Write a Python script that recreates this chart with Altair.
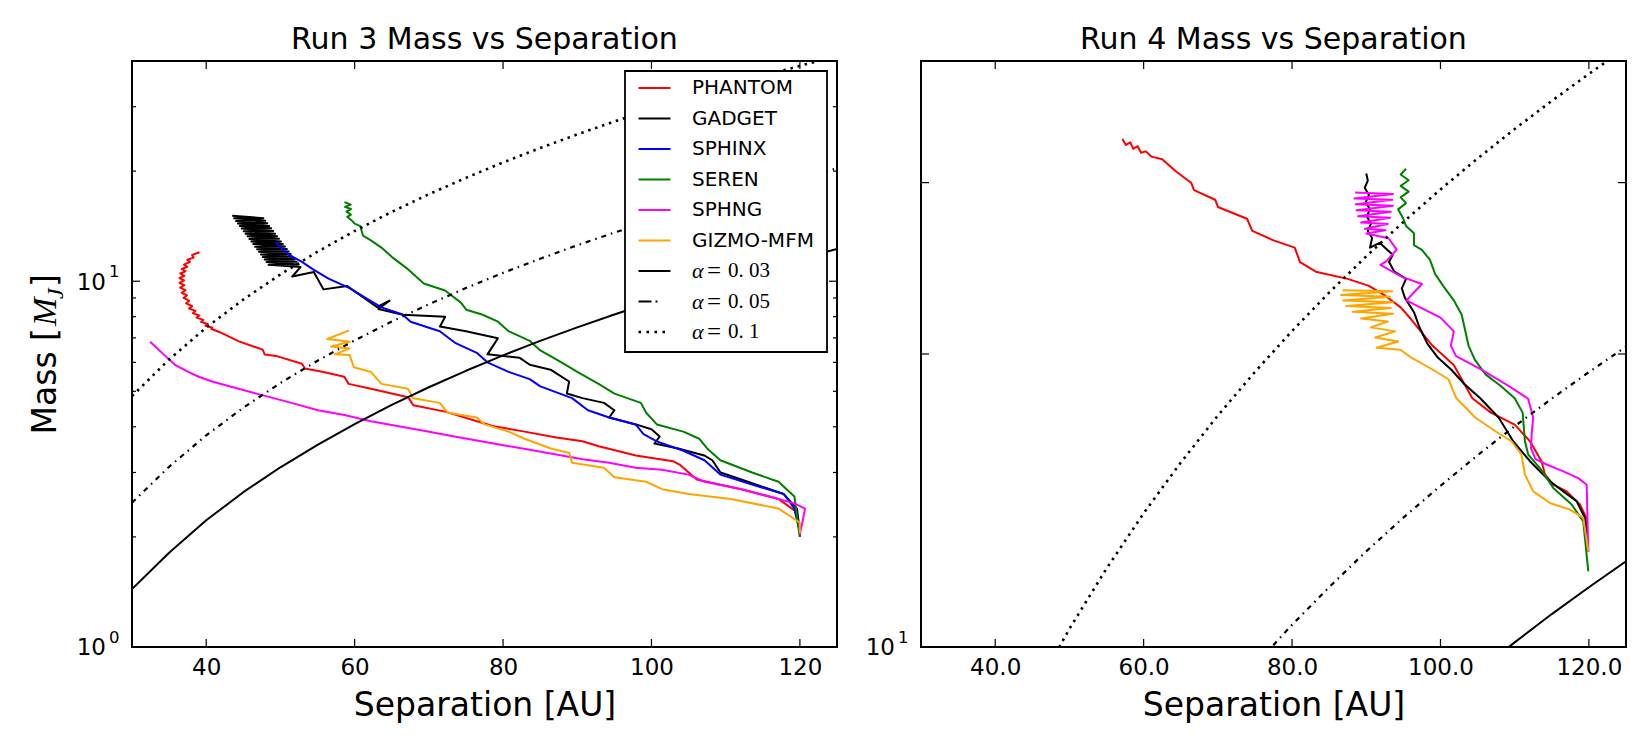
import altair as alt
import pandas as pd

# ---------------------------------------------------------------- axes
X_DOMAIN = [30, 125]
X_TICKS = [40, 60, 80, 100, 120]
RUN3_Y_DOMAIN = [1, 40]
RUN3_Y_MAJOR = [1, 10]
RUN3_Y_EXP = ["0", "1"]
RUN3_Y_MINOR = [2, 3, 4, 5, 6, 7, 8, 9, 20, 30]
RUN4_Y_DOMAIN = [10, 40]
RUN4_Y_MAJOR = [10]
RUN4_Y_EXP = ["1"]
RUN4_Y_MINOR = [20, 30]

CODES = ["PHANTOM", "GADGET", "SPHINX", "SEREN", "SPHNG", "GIZMO-MFM"]
CODE_COLORS = ["#ff0000", "#000000", "#0000ff", "#008000", "#ff00ff", "#ffa500"]

# ------------------------------------------- fragmentation-mass curves
ALPHA_SEP = [30, 35, 40, 45, 50, 55, 60, 65, 70, 75, 80, 85, 90, 95, 100,
             105, 110, 115, 120, 125]
ALPHA_003 = [1.44, 1.81, 2.22, 2.65, 3.10, 3.57, 4.07, 4.59, 5.13, 5.69, 6.27,
             6.87, 7.48, 8.11, 8.76, 9.43, 10.11, 10.81, 11.52, 12.25]
ALPHA_005 = [2.48, 3.11, 3.79, 4.51, 5.27, 6.06, 6.89, 7.76, 8.65, 9.58, 10.54,
             11.52, 12.54, 13.58, 14.64, 15.74, 16.86, 18.00, 19.16, 20.35]
ALPHA_01 = [4.85, 6.11, 7.47, 8.91, 10.44, 12.04, 13.72, 15.47, 17.29, 19.17,
            21.12, 23.13, 25.20, 27.33, 29.52, 31.76, 34.05, 36.40, 38.80, 41.25]
ALPHA_LABELS = ["0. 03", "0. 05", "0. 1"]

# --------------------------------------------- Run 3 (separation, mass)
RUN3_PHANTOM = [
    (39.1, 12.0), (38.1, 11.8), (38.3, 11.6), (37.45, 11.45), (37.8, 11.3),
    (37.0, 11.1), (37.45, 10.95), (36.7, 10.8), (37.2, 10.65), (36.5, 10.5),
    (37.05, 10.35), (36.4, 10.2), (37.0, 10.05), (36.4, 9.9), (37.05, 9.75),
    (36.5, 9.6), (37.2, 9.45), (36.7, 9.3), (37.4, 9.15), (36.95, 9.0),
    (37.7, 8.85), (37.3, 8.7), (38.1, 8.55), (37.7, 8.42), (38.55, 8.3),
    (38.2, 8.18), (39.05, 8.06), (38.7, 7.95), (39.6, 7.84), (39.3, 7.74),
    (40.2, 7.64), (39.9, 7.55), (40.8, 7.47), (40.7, 7.4),
    (41.5, 7.3), (42.2, 7.2), (44.4, 6.85), (47.6, 6.5), (47.9, 6.3),
    (49.4, 6.25), (52.9, 5.95), (53.3, 5.77), (55.8, 5.65), (58.6, 5.48),
    (59.2, 5.24), (62.2, 5.08), (67.2, 4.82), (67.9, 4.58), (72.2, 4.40),
    (78.6, 4.02), (82.9, 3.88), (87.2, 3.74), (90.7, 3.65), (92.9, 3.54),
    (97.9, 3.34), (102.9, 3.22), (103.9, 3.14), (106.1, 2.87), (112.1, 2.70),
    (117.1, 2.54), (119.3, 2.36), (120.0, 2.12), (120.0, 2.0)]

RUN3_GADGET = [
    (43.50, 15.10), (47.70, 14.87), (43.76, 14.86), (47.96, 14.64),
    (44.02, 14.62), (48.23, 14.40), (44.27, 14.38), (48.49, 14.16),
    (44.53, 14.16), (48.75, 13.95), (44.79, 13.93), (49.02, 13.72),
    (45.05, 13.70), (49.28, 13.49), (45.31, 13.48), (49.54, 13.28),
    (45.56, 13.27), (49.81, 13.07), (45.82, 13.05), (50.07, 12.85),
    (46.08, 12.84), (50.33, 12.65), (46.34, 12.64), (50.60, 12.45),
    (46.59, 12.43), (50.86, 12.24), (46.85, 12.23), (51.12, 12.05),
    (47.11, 12.04), (51.38, 11.86), (47.37, 11.84), (51.65, 11.66),
    (47.63, 11.65), (51.91, 11.48), (47.88, 11.47), (52.17, 11.30),
    (48.14, 11.28), (52.44, 11.11), (48.40, 11.10), (52.70, 10.93),
    (51.6, 10.3), (54.5, 10.6), (55.8, 9.5), (59.0, 9.7),
    (63.0, 8.5), (64.7, 8.85), (63.2, 8.4), (66.5, 8.1), (72.2, 8.0),
    (71.5, 7.52), (75.0, 7.30), (79.3, 6.98), (77.9, 6.31), (82.2, 6.18),
    (83.6, 5.91), (86.4, 5.73), (88.9, 5.32), (88.6, 4.93), (90.7, 4.79),
    (93.6, 4.65), (95.0, 4.44), (94.3, 4.24), (97.9, 4.06), (100.0, 3.94),
    (101.1, 3.76), (100.4, 3.60), (103.6, 3.49), (107.1, 3.34), (108.2, 3.24),
    (109.3, 3.00), (112.1, 2.87), (117.8, 2.62), (119.6, 2.39), (120.0, 2.06)]

RUN3_SPHINX = [
    (49.35, 12.74), (51.13, 11.81), (52.91, 11.29), (54.34, 10.79),
    (56.48, 10.16), (59.33, 9.57), (61.47, 9.01), (63.61, 8.48), (66.47, 8.11),
    (67.54, 7.75), (71.47, 7.30), (73.61, 6.77), (76.46, 6.37), (77.89, 6.00),
    (80.74, 5.65), (83.59, 5.40), (85.02, 5.16), (89.30, 4.79), (91.44, 4.44),
    (94.30, 4.24), (97.86, 4.06), (98.93, 3.82), (100.72, 3.65), (104.29, 3.44),
    (107.14, 3.24), (109.28, 2.96), (113.56, 2.78), (117.84, 2.62),
    (119.26, 2.39), (119.98, 2.06)]

RUN3_SEREN = [
    (58.62, 16.45), (59.48, 16.2), (58.7, 15.97), (59.5, 15.75), (58.9, 15.49),
    (59.5, 15.2), (59.0, 15.0), (59.69, 14.6), (60.0, 14.37), (60.76, 14.15),
    (61.12, 13.33), (62.19, 12.93), (63.61, 12.36), (65.04, 11.64),
    (67.18, 10.79), (69.32, 9.86), (72.18, 9.43), (74.32, 8.74), (75.04, 8.36),
    (77.17, 8.11), (79.32, 7.75), (80.74, 7.30), (83.59, 6.87), (85.02, 6.47),
    (87.87, 6.00), (90.01, 5.65), (92.87, 5.24), (95.01, 4.93), (98.57, 4.65),
    (99.29, 4.37), (100.72, 4.06), (104.29, 3.88), (106.43, 3.71),
    (107.50, 3.49), (109.28, 3.24), (113.56, 3.00), (117.12, 2.83),
    (119.26, 2.58), (119.98, 2.00)]

RUN3_SPHNG = [
    (32.44, 6.83), (34.37, 6.28), (35.79, 5.91), (37.58, 5.65), (39.0, 5.48),
    (40.79, 5.32), (44.35, 5.08), (47.92, 4.86), (51.49, 4.65), (55.06, 4.44),
    (58.62, 4.31), (62.19, 4.14), (65.76, 4.02), (69.32, 3.90), (72.89, 3.78),
    (76.46, 3.67), (80.03, 3.56), (83.59, 3.46), (87.16, 3.36), (90.73, 3.26),
    (94.30, 3.19), (97.86, 3.09), (101.43, 3.05), (104.99, 2.96),
    (107.14, 2.83), (112.13, 2.70), (117.12, 2.54), (119.26, 2.47),
    (120.69, 2.39), (120.33, 2.19), (119.98, 2.03)]

RUN3_GIZMO = [
    (59.26, 7.34), (56.33, 6.95), (59.33, 6.83), (56.84, 6.63), (59.33, 6.55),
    (57.34, 6.31), (59.33, 6.28), (59.90, 5.82), (62.19, 5.65), (63.61, 5.24),
    (67.18, 5.08), (67.90, 4.79), (71.47, 4.65), (72.54, 4.37), (76.46, 4.24),
    (77.53, 4.06), (80.74, 3.88), (82.88, 3.71), (86.44, 3.49), (88.94, 3.39),
    (89.30, 3.19), (93.58, 3.09), (95.01, 2.91), (99.29, 2.83), (101.43, 2.70),
    (104.99, 2.62), (110.70, 2.54), (117.12, 2.39), (119.98, 2.19),
    (120.0, 2.05)]

# --------------------------------------------- Run 4 (separation, mass)
RUN4_PHANTOM = [
    (57.14, 33.26), (57.6, 32.8), (58.2, 33.0), (58.6, 32.5), (59.2, 32.7),
    (59.64, 32.2), (60.3, 32.3), (61.07, 31.9), (62.50, 31.71), (64.29, 30.83),
    (66.43, 29.97), (66.79, 29.47), (69.64, 28.81), (70.00, 28.32),
    (73.93, 27.54), (74.64, 26.76), (77.50, 26.17), (80.36, 25.72),
    (81.07, 24.86), (83.21, 24.30), (87.50, 23.89), (90.36, 23.50),
    (92.50, 22.97), (94.64, 22.33), (96.07, 21.70), (98.93, 20.39),
    (101.79, 19.49), (104.29, 18.01), (106.79, 17.41), (110.0, 16.92),
    (112.06, 16.27), (113.62, 15.52), (114.08, 15.04), (115.2, 14.68),
    (117.0, 14.45), (118.8, 14.01), (119.6, 13.6), (119.92, 12.54)]

RUN4_GADGET = [
    (90.00, 30.65), (90.21, 30.14), (89.79, 29.63), (90.36, 29.13),
    (89.93, 28.64), (90.50, 28.16), (90.07, 27.70), (90.64, 27.22),
    (90.21, 26.76), (90.79, 26.31), (90.50, 25.72), (91.79, 26.02),
    (92.86, 25.58), (93.57, 25.29), (93.07, 24.86), (93.79, 24.30),
    (95.36, 23.89), (94.79, 23.36), (95.21, 22.84), (96.43, 22.08),
    (97.14, 21.33), (98.21, 20.51), (99.64, 19.83), (101.43, 19.28),
    (103.21, 18.63), (105.36, 18.01), (107.86, 17.2), (109.8, 16.27),
    (112.06, 15.52), (114.75, 14.80), (116.55, 14.45), (118.34, 14.12),
    (119.47, 13.57), (119.92, 12.54)]

RUN4_SEREN = [
    (95.36, 31.00), (94.64, 30.58), (95.71, 30.17), (94.64, 29.77),
    (95.71, 29.37), (94.64, 28.97), (95.36, 28.58), (94.29, 28.16),
    (95.00, 27.54), (95.36, 27.07), (96.43, 26.61), (96.43, 25.87),
    (97.50, 25.58), (98.57, 25.00), (99.29, 24.16), (100.36, 23.50),
    (101.79, 22.71), (102.86, 21.95), (103.36, 21.09), (103.79, 20.39),
    (104.64, 19.72), (106.07, 19.06), (108.21, 18.52), (110.0, 18.01),
    (111.07, 17.41), (111.38, 16.27), (111.83, 15.76), (113.4, 15.27),
    (115.2, 14.57), (117.67, 14.01), (119.24, 13.46), (119.92, 11.96)]

RUN4_SPHNG = [
    (88.5, 29.3), (93.6, 29.2), (88.4, 28.9), (93.5, 28.8), (88.6, 28.5),
    (93.6, 28.4), (88.7, 28.1), (93.3, 28.0), (88.9, 27.7), (93.2, 27.6),
    (89.3, 27.3), (92.9, 27.2), (89.8, 26.9), (92.6, 26.8), (90.0, 26.6),
    (93.0, 26.3), (94.1, 25.6), (92.7, 24.9), (91.9, 24.7), (94.8, 24.0),
    (97.5, 23.6), (95.4, 22.7), (100.0, 21.8), (101.8, 21.1), (101.4, 20.4),
    (102.1, 19.9), (105.4, 19.3), (108.9, 18.6), (111.8, 18.0), (112.5, 17.2),
    (112.3, 16.6), (112.2, 16.0), (112.8, 15.6), (114.3, 15.4),
    (116.55, 15.15), (118.57, 14.91), (119.7, 14.68), (119.92, 12.54)]

RUN4_GIZMO = [
    (86.8, 23.25), (93.5, 23.2), (86.6, 23.0), (93.2, 22.9), (86.9, 22.7),
    (93.6, 22.6), (87.3, 22.4), (93.3, 22.3), (88.2, 22.1), (93.6, 22.0),
    (89.3, 21.75), (92.9, 21.6), (90.6, 21.3), (93.9, 21.1), (91.2, 20.8),
    (94.3, 20.6), (91.4, 20.3), (94.6, 20.2), (96.07, 19.83), (98.93, 19.28),
    (101.07, 18.84), (102.14, 18.01), (104.64, 17.22), (107.5, 16.64),
    (109.57, 16.27), (110.92, 15.76), (111.38, 15.04), (112.5, 14.45),
    (114.75, 14.06), (117.45, 13.84), (119.24, 13.57), (119.92, 12.54)]

# SPHINX has no Run 4 track
RUN3_TRACKS = [RUN3_PHANTOM, RUN3_GADGET, RUN3_SPHINX, RUN3_SEREN, RUN3_SPHNG, RUN3_GIZMO]
RUN4_TRACKS = [RUN4_PHANTOM, RUN4_GADGET, None, RUN4_SEREN, RUN4_SPHNG, RUN4_GIZMO]

# ---------------------------------------------------------------- style
W, H = 705, 586
FONT = "DejaVu Sans"
MATH = "Liberation Serif"
DASHDOT = [5, 5, 1.5, 5]
DOTTED = [2.5, 4.8]
ONE = pd.DataFrame({"k": [0]})


def frame(points):
    return pd.DataFrame({
        "i": list(range(len(points))),
        "x": [p[0] for p in points],
        "m": [p[1] for p in points],
    })


def line(df, xs, ys, xaxis, color, width=2.0, dash=None):
    kw = dict(color=color, strokeWidth=width, clip=True, strokeJoin="round")
    if dash is not None:
        kw["strokeDash"] = dash
    return alt.Chart(df).mark_line(**kw).encode(
        x=alt.X("x:Q", scale=xs, axis=xaxis),
        y=alt.Y("m:Q", scale=ys, axis=None),
        order="i:Q",
    )


def tick_layers(xs, ys, xaxis, y_major, y_minor, minor_len):
    layers = []
    xt = pd.DataFrame({"x": X_TICKS})
    for y0, y1 in ((H, H - 8), (0, 8)):
        layers.append(alt.Chart(xt).mark_rule(color="black", strokeWidth=1.2).encode(
            x=alt.X("x:Q", scale=xs, axis=xaxis), y=alt.value(y0), y2=alt.value(y1)))
    for vals, ln in ((y_major, 8), (y_minor, minor_len)):
        yt = pd.DataFrame({"m": vals})
        for x0, x1 in ((0, ln), (W, W - ln)):
            layers.append(alt.Chart(yt).mark_rule(color="black", strokeWidth=1.2).encode(
                y=alt.Y("m:Q", scale=ys, axis=None), x=alt.value(x0), x2=alt.value(x1)))
    return layers


def power_label_layers(ys, y_major, exps):
    """Log-axis labels drawn as a base '10' with a raised exponent."""
    df = pd.DataFrame({"m": y_major, "base": ["10"] * len(y_major), "exp": exps})
    base = alt.Chart(df).mark_text(
        align="right", baseline="alphabetic", dy=8.3, font=FONT, fontSize=23,
        color="black").encode(
        x=alt.value(-26), y=alt.Y("m:Q", scale=ys, axis=None), text="base:N")
    exp = alt.Chart(df).mark_text(
        align="left", baseline="alphabetic", dy=-4, font=FONT, fontSize=16.5,
        color="black").encode(
        x=alt.value(-23), y=alt.Y("m:Q", scale=ys, axis=None), text="exp:N")
    return [base, exp]


def legend_layers():
    layers = [alt.Chart(ONE).mark_rect(fill="white", stroke="black", strokeWidth=1.8).encode(
        x=alt.value(493), x2=alt.value(695), y=alt.value(10), y2=alt.value(291))]
    rows = [(c, col, None) for c, col in zip(CODES, CODE_COLORS)]
    rows += [(lab, "#000000", d) for lab, d in
             zip(ALPHA_LABELS, [None, [13, 4, 2, 20], [2.5, 5.5]])]
    for i, (label, color, dash) in enumerate(rows):
        ry = 27 + 30.5 * i
        kw = dict(color=color, strokeWidth=2.6 if i == len(rows) - 1 else 2.0)
        if dash is not None:
            kw["strokeDash"] = dash
        layers.append(alt.Chart(ONE).mark_rule(**kw).encode(
            x=alt.value(506.5), x2=alt.value(538.5), y=alt.value(ry)))
        if i < len(CODES):
            layers.append(alt.Chart(ONE).mark_text(
                text=label, align="left", baseline="middle", font=FONT,
                fontSize=20, color="black").encode(x=alt.value(560), y=alt.value(ry)))
        else:
            layers.append(alt.Chart(ONE).mark_text(
                text="α", align="left", baseline="middle", font=MATH,
                fontStyle="italic", fontSize=22, color="black").encode(
                x=alt.value(560), y=alt.value(ry)))
            layers.append(alt.Chart(ONE).mark_text(
                text="=", align="left", baseline="middle", font=MATH,
                fontSize=25, color="black").encode(x=alt.value(575), y=alt.value(ry)))
            layers.append(alt.Chart(ONE).mark_text(
                text=label, align="left", baseline="middle", font=MATH,
                fontSize=21, color="black").encode(x=alt.value(596), y=alt.value(ry)))
    return layers


def mass_title_layers():
    base = dict(angle=270, baseline="alphabetic", color="black")
    return [
        alt.Chart(ONE).mark_text(text="Mass [", align="right", font=FONT, fontSize=33, **base)
        .encode(x=alt.value(-76), y=alt.value(267)),
        alt.Chart(ONE).mark_text(text="M", align="left", font=MATH,
                                 fontStyle="italic", fontSize=34, **base)
        .encode(x=alt.value(-76), y=alt.value(265)),
        alt.Chart(ONE).mark_text(text="J", align="left", font=MATH,
                                 fontStyle="italic", fontSize=24, **base)
        .encode(x=alt.value(-69), y=alt.value(238)),
        alt.Chart(ONE).mark_text(text="]", align="left", font=FONT, fontSize=33, **base)
        .encode(x=alt.value(-76), y=alt.value(226)),
    ]


def panel(tracks, ydom, y_major, y_exps, y_minor, x_format, title,
          minor_len, with_legend):
    xs = alt.Scale(domain=X_DOMAIN, nice=False, zero=False)
    ys = alt.Scale(type="log", domain=ydom, nice=False)
    xaxis = alt.Axis(values=X_TICKS, format=x_format, ticks=False, domain=False,
                     grid=False, labelFontSize=23, labelPadding=9,
                     labelColor="black", labelFont=FONT,
                     title="Separation [AU]", titleFontSize=33,
                     titleFontWeight="normal", titleFont=FONT,
                     titleColor="black", titlePadding=10)
    layers = []
    for pts, color in zip(tracks, CODE_COLORS):
        if pts is None:
            continue
        layers.append(line(frame(pts), xs, ys, xaxis, color))
    for vals, dash, width in ((ALPHA_003, None, 2.0), (ALPHA_005, DASHDOT, 2.2),
                              (ALPHA_01, DOTTED, 2.6)):
        layers.append(line(frame(list(zip(ALPHA_SEP, vals))), xs, ys, xaxis,
                           "#000000", width=width, dash=dash))
    layers += tick_layers(xs, ys, xaxis, y_major, y_minor, minor_len)
    layers += power_label_layers(ys, y_major, y_exps)
    if with_legend:
        layers += legend_layers()
        layers += mass_title_layers()
    return alt.layer(*layers).properties(
        width=W, height=H,
        title=alt.TitleParams(title, fontSize=30, fontWeight="normal", font=FONT,
                              color="black", anchor="middle", offset=5),
    )


run3 = panel(RUN3_TRACKS, RUN3_Y_DOMAIN, RUN3_Y_MAJOR, RUN3_Y_EXP, RUN3_Y_MINOR,
             "d", "Run 3 Mass vs Separation", 4, True)
run4 = panel(RUN4_TRACKS, RUN4_Y_DOMAIN, RUN4_Y_MAJOR, RUN4_Y_EXP, RUN4_Y_MINOR,
             ".1f", "Run 4 Mass vs Separation", 8, False)

chart = alt.hconcat(run3, run4, spacing=25).properties(
    padding={"left": 28, "top": 24, "right": 5, "bottom": 5},
    background="white",
).configure_view(stroke="black", strokeWidth=2)

chart.save("out.html", embed_options={"renderer": "svg", "actions": False})
